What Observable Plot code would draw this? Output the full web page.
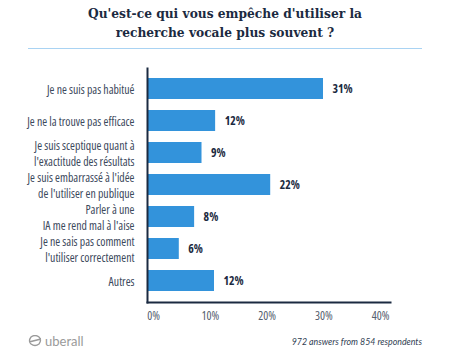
<!DOCTYPE html>
<html>
<head>
<meta charset="utf-8">
<script src="https://cdn.jsdelivr.net/npm/d3@7"></script>
<script src="https://cdn.jsdelivr.net/npm/@observablehq/plot@0.6"></script>
<style>
  html, body { margin: 0; padding: 0; background: #fff; }
  body { width: 450px; height: 361px; position: relative; overflow: hidden; }
  #title { position: absolute; left: 0; top: 4px; width: 450px; text-align: center;
    font-family: "DejaVu Serif", serif; font-stretch: condensed; font-weight: bold; font-size: 13.6px; line-height: 19px; color: #1b2a41; }
  #rule { position: absolute; left: 28px; top: 48px; width: 394px; height: 0; border-top: 1.5px solid #a9d3f3; }
  #chart { position: absolute; left: 0; top: 50px; }
  #chart svg text { font-family: "Open Sans", sans-serif; font-stretch: 75%; }
  #caption { position: absolute; right: 28px; top: 336px; font-family: Lato, sans-serif; font-style: italic;
    font-size: 8.8px; color: #2f3d52; }
  #logo { position: absolute; left: 28px; top: 333px; font-family: Lato, sans-serif; font-size: 13px; color: #9a9a9a;
    display: flex; align-items: center; gap: 3px; }
</style>
</head>
<body>
<div id="title">Qu'est-ce qui vous empêche d'utiliser la<br>recherche vocale plus souvent ?</div>
<div id="rule"></div>
<div id="chart"></div>
<div id="logo"><svg width="14" height="12" viewBox="0 0 14 12"><path d="M3 2 Q7 -1 11 2 Q14 5 11 9 Q7 12 3 9 Q0 6 3 2 Z M1 7 L13 4" fill="none" stroke="#9a9a9a" stroke-width="1.3"/></svg><span>uberall</span></div>
<div id="caption">972 answers from 854 respondents</div>
<script>
const categories = [
  "Je ne suis pas habitué",
  "Je ne la trouve pas efficace",
  "Je suis sceptique quant à\nl'exactitude des résultats",
  "Je suis embarrassé à l'idée\nde l'utiliser en publique",
  "Parler à une\nIA me rend mal à l'aise",
  "Je ne sais pas comment\nl'utiliser correctement",
  "Autres"
];
const values = [31, 12, 9.6, 21.7, 8.3, 5.6, 11.8];
const valueLabels = ["31%", "12%", "9%", "22%", "8%", "6%", "12%"];
const xTicks = [0, 10, 20, 30, 40];
const xTickLabels = ["0%", "10%", "20%", "30%", "40%"];

const data = categories.map((c, i) => ({category: c, value: values[i], label: valueLabels[i]}));
const navy = "#1b2a41";

const chart = Plot.plot({
  width: 450,
  height: 282,
  marginTop: 18,
  marginBottom: 30,
  marginLeft: 147,
  marginRight: 60,
  style: "font-family: 'Open Sans', sans-serif; font-stretch: 75%; font-size: 11.8px; color: #3d4a5c; background: transparent;",
  x: {domain: [0, 42.8], axis: null},
  y: {domain: categories, paddingInner: 0.335, paddingOuter: 0.287, axis: null},
  marks: [
    Plot.barX(data, {y: "category", x: "value", fill: "#3393db"}),
    Plot.text(data, {y: "category", x: "value", text: "label", dx: 9, textAnchor: "start",
      fill: navy, fontWeight: "bold", fontSize: 11.8}),
    Plot.text(data, {y: "category", text: "category", frameAnchor: "left", dx: -13, textAnchor: "end",
      lineHeight: 1.3, fill: "#3b485b", fontSize: 11.8}),
    Plot.axisX({ticks: xTicks, tickFormat: (d, i) => xTickLabels[i], tickSize: 0, tickPadding: 9, dx: 6, fill: "#55606e", label: null, fontSize: 11.8}),
    Plot.frame({anchor: "left", stroke: navy, strokeWidth: 2}),
    Plot.frame({anchor: "bottom", stroke: navy, strokeWidth: 2})
  ]
});
document.getElementById("chart").appendChild(chart);
</script>
</body>
</html>
